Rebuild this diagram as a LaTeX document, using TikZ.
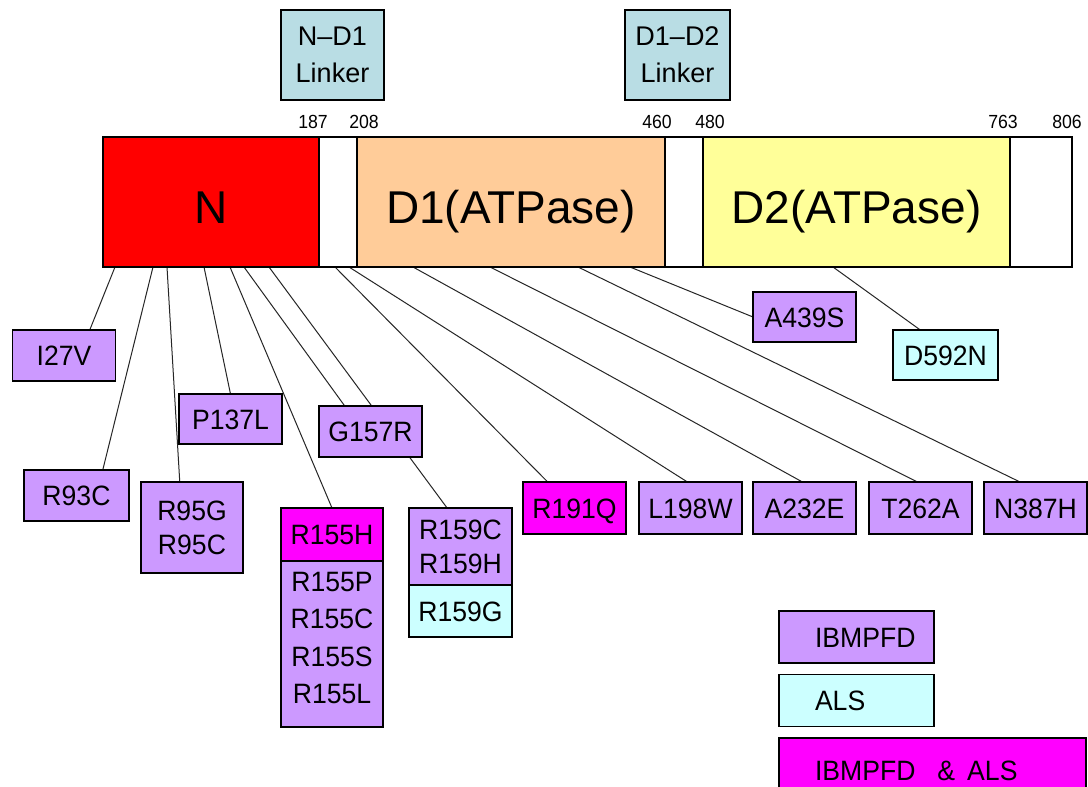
\documentclass[tikz,border=0pt]{standalone}
\usepackage{fontspec}
\setmainfont{Liberation Sans}
\newfontfamily\mutfont[FakeStretch=0.95]{Liberation Sans}
\newfontfamily\numfont[FakeStretch=0.93]{Liberation Sans}
\usetikzlibrary{calc,backgrounds}
\definecolor{nred}{HTML}{FF0000}
\definecolor{dpeach}{HTML}{FFCC99}
\definecolor{dyellow}{HTML}{FFFF99}
\definecolor{ibm}{HTML}{CC99FF}
\definecolor{als}{HTML}{CCFFFF}
\definecolor{both}{HTML}{FF00FF}
\definecolor{linkfill}{HTML}{B9DDE4}
\begin{document}
\begin{tikzpicture}[x=1pt,y=-1pt,
  dom/.style={draw=black,line width=1.5pt,minimum height=130pt,inner sep=0pt,outer sep=0pt,
    anchor=north west,font=\fontsize{46}{50}\selectfont,text height=42pt,text depth=0pt},
  num/.style={inner sep=0pt,font=\numfont\fontsize{19}{22}\selectfont},
  linkbox/.style={draw=black,line width=1.5pt,fill=linkfill,minimum height=90pt,inner sep=0pt,
    outer sep=0pt,align=center,font=\fontsize{27}{37}\selectfont},
  mbox/.style={draw=black,line width=1.5pt,fill=ibm,minimum width=103pt,minimum height=51pt,
    inner sep=0pt,outer sep=0pt,align=center,font=\mutfont\fontsize{28}{34}\selectfont},
  one/.style={mbox,text height=20pt,text depth=0pt},
  legbox/.style={draw=black,line width=1.5pt,minimum width=155pt,minimum height=52pt,
    inner sep=0pt,outer sep=0pt,font=\mutfont\fontsize{28}{34}\selectfont,
    text height=20pt,text depth=0pt},
  conn/.style={draw=black!85,line width=1pt}]
\useasboundingbox (0,0) rectangle (1088,787);
\clip (0,0) rectangle (1088,787);

% protein bar: domains and linkers
\node[dom,fill=nred,minimum width=216pt] (Ndom) at (103,137) {N};
\node[dom,fill=white,minimum width=38pt] (gapA) at (Ndom.north east) {};
\node[dom,fill=dpeach,minimum width=308pt] (D1dom) at (gapA.north east) {D1(ATPase)};
\node[dom,fill=white,minimum width=38pt] (gapB) at (D1dom.north east) {};
\node[dom,fill=dyellow,minimum width=307pt] (D2dom) at (gapB.north east) {D2(ATPase)};
\node[dom,fill=white,minimum width=62pt] (tail) at (D2dom.north east) {};

% residue boundaries
\node[num] (b187) at (313,122) {187};
\node[num] (b208) at (364,122) {208};
\node[num] (b460) at (657,122) {460};
\node[num] (b480) at (710,122) {480};
\node[num] (b763) at (1003,122) {763};
\node[num] (b806) at (1067,122) {806};

% linker labels
\node[linkbox,minimum width=103pt] (lkA) at (332.5,55) {N–D1\\Linker};
\node[linkbox,minimum width=105pt] (lkB) at (677.5,55) {D1–D2\\Linker};

% mutations
\node[one] (i27v) at (64,355.5) {I27V};
\node[one,minimum width=105pt] (r93c) at (76.5,495.5) {R93C};
\node[mbox,minimum width=102pt,minimum height=91pt] (r95) at (192,527.5) {R95G\\R95C};
\node[one,minimum height=50pt] (p137l) at (230.5,419) {P137L};
\node[one] (g157r) at (370.5,431.5) {G157R};
\node[one,fill=both,minimum width=102pt,minimum height=53pt] (r155h) at (332,534.5) {R155H};
\node[mbox,anchor=north,minimum width=102pt,minimum height=166pt,
  label={[align=center,inner sep=0pt,font=\mutfont\fontsize{28}{37.5}\selectfont,yshift=6pt]center:R155P\\R155C\\R155S\\R155L}]
  (r155x) at (r155h.south) {};
\node[mbox,minimum height=77pt] (r159) at (460.5,546.5) {R159C\\R159H};
\node[one,fill=als,anchor=north,minimum height=52pt] (r159g) at (r159.south) {R159G};
\node[one,fill=both,minimum height=52pt] (r191q) at (574.5,508) {R191Q};
\node[one,minimum height=52pt] (l198w) at (690.5,508) {L198W};
\node[one,minimum height=52pt] (a232e) at (804.5,508) {A232E};
\node[one,minimum height=52pt] (t262a) at (920.5,508) {T262A};
\node[one,minimum height=52pt] (n387h) at (1035.5,508) {N387H};
\node[one,minimum height=50pt] (a439s) at (804.5,317) {A439S};
\node[one,fill=als,minimum width=105pt,minimum height=50pt] (d592n) at (945.5,355) {D592N};

% legend
\node[legbox,fill=ibm] (legI) at (856.5,637) {\makebox[83pt][l]{IBMPFD}};
\node[legbox,fill=als] (legA) at (856.5,700.5) {\makebox[83pt][l]{ALS}};
\node[legbox,fill=both,anchor=north west,minimum width=307pt,minimum height=64pt] (legB) at (779,738)
  {\makebox[235pt][l]{IBMPFD\hspace{22pt}\&\hspace{12pt}ALS}};

% mutation sites on the lower edge of the bar
\coordinate (s27) at (115,267);
\coordinate (s93) at (153,267);
\coordinate (s95) at (167,267);
\coordinate (s137) at (204,267);
\coordinate (s155) at (230,267);
\coordinate (s157) at (244,267);
\coordinate (s159) at (269,267);
\coordinate (s191) at (335,267);
\coordinate (s198) at (349,267);
\coordinate (s232) at (413,267);
\coordinate (s262) at (490,267);
\coordinate (s387) at (578,267);
\coordinate (s439) at (630,267);
\coordinate (s592) at (833,267);

\begin{pgfonlayer}{background}
  \fill[white] (0,0) rectangle (1088,787);
  \draw[conn] (s27) -- ($(i27v.north west)!0.75!(i27v.north east)$);
  \draw[conn] (s93) -- ($(r93c.north west)!0.75!(r93c.north east)$);
  \draw[conn] (s95) -- ($(r95.north west)!0.38!(r95.north east)$);
  \draw[conn] (s137) -- (p137l.north);
  \draw[conn] (s155) -- (r155h.north);
  \draw[conn] (s157) -- ($(g157r.north west)!0.25!(g157r.north east)$);
  \draw[conn] (s159) -- ($(r159.north west)!0.37!(r159.north east)$);
  \draw[conn] (s191) -- ($(r191q.north west)!0.24!(r191q.north east)$);
  \draw[conn] (s198) -- ($(l198w.north west)!0.47!(l198w.north east)$);
  \draw[conn] (s232) -- ($(a232e.north west)!0.48!(a232e.north east)$);
  \draw[conn] (s262) -- ($(t262a.north west)!0.47!(t262a.north east)$);
  \draw[conn] (s387) -- ($(n387h.north west)!0.35!(n387h.north east)$);
  \draw[conn] (s439) -- (a439s.west);
  \draw[conn] (s592) -- ($(d592n.north west)!0.26!(d592n.north east)$);
\end{pgfonlayer}
\end{tikzpicture}
\end{document}
